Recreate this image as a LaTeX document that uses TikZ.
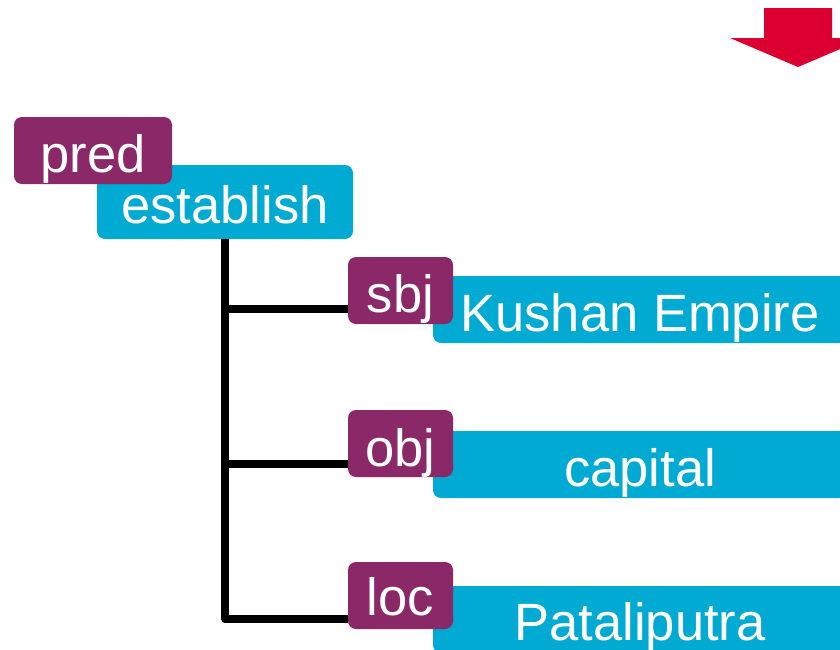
\documentclass[tikz,border=0pt]{standalone}
\usepackage{fontspec}
\setmainfont{Liberation Sans}
\definecolor{tagpurple}{RGB}{138,40,104}
\definecolor{boxblue}{RGB}{0,170,210}
\definecolor{arrowred}{RGB}{220,0,50}
\tikzset{
  box/.style={rectangle, rounded corners=8pt, inner sep=0pt, draw=none},
  tagbox/.style={box, fill=tagpurple, minimum width=105pt, minimum height=67pt},
  contbox/.style={box, fill=boxblue, minimum width=414pt, minimum height=67pt},
  lbl/.style={anchor=base, inner sep=0pt, text=white, font=\fontsize{52.5}{60}\selectfont},
  conn/.style={line width=8pt, draw=black, line join=round}
}
\begin{document}
\begin{tikzpicture}[x=1pt,y=-1pt]
\useasboundingbox (0,0) rectangle (840,649);
\clip (0,0) rectangle (840,649);
% red arrow
\fill[arrowred] (764,8) -- (832,8) -- (832,38) -- (866,38) -- (798,67) -- (730,38) -- (764,38) -- cycle;
% root
\node[box, fill=boxblue, minimum width=256pt, minimum height=74pt] (est) at (225,202) {};
\node[box, fill=tagpurple, minimum width=158pt, minimum height=67pt] (pred) at (93,150.5) {};
\node[lbl] (estl) at (225,223) {establish};
\node[lbl] (predl) at (93,172) {pred};
% content boxes
\node[contbox] (kus) at (640,309.5) {};
\node[contbox] (cap) at (640,464.5) {};
\node[contbox] (pat) at (640,619.5) {};
% connectors
\coordinate (js) at (348,309);
\coordinate (jo) at (348,464);
\coordinate (jl) at (348,619);
\draw[conn] (est.south) |- (jl);
\draw[conn] (est.south |- js) -- (js);
\draw[conn] (est.south |- jo) -- (jo);
% tag boxes
\node[tagbox] (sbj) at (400.5,290.5) {};
\node[tagbox] (obj) at (400.5,443.5) {};
\node[tagbox] (loc) at (400.5,595.5) {};
% labels
\node[lbl] (kusl) at (640,331) {Kushan Empire};
\node[lbl] (capl) at (640,486) {capital};
\node[lbl] (patl) at (640,640) {Pataliputra};
\node[lbl] (sbjl) at (400.5,312) {sbj};
\node[lbl] (objl) at (400.5,466) {obj};
\node[lbl] (locl) at (400.5,615) {loc};
\end{tikzpicture}
\end{document}
